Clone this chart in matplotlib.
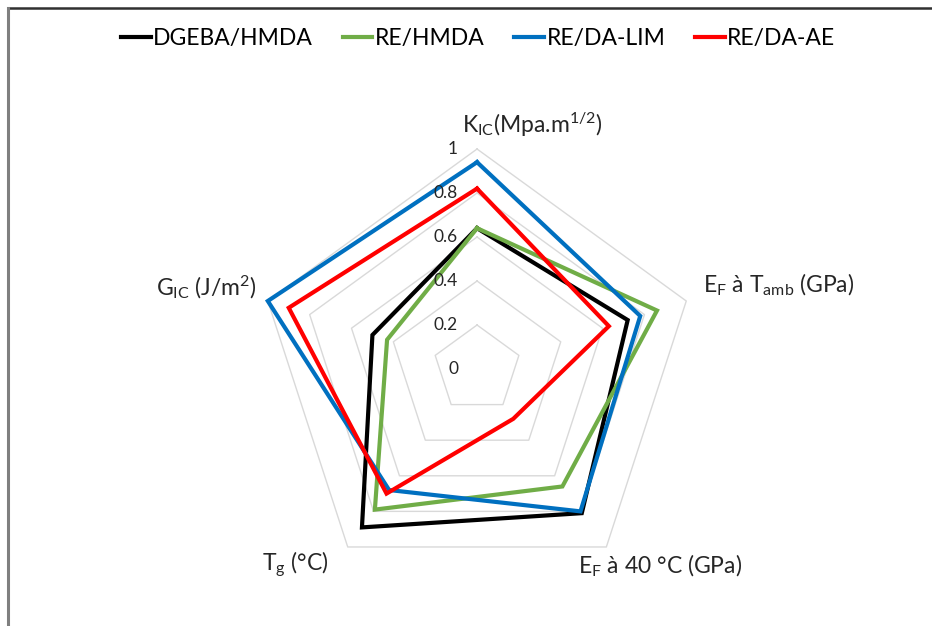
import numpy as np
import matplotlib
matplotlib.use('Agg')
import matplotlib.pyplot as plt
from matplotlib.lines import Line2D
from matplotlib.transforms import offset_copy

plt.rcParams['font.family'] = ['Lato', 'DejaVu Sans']
plt.rcParams['mathtext.fontset'] = 'custom'
plt.rcParams['mathtext.rm'] = 'Lato'
plt.rcParams['mathtext.it'] = 'Lato:italic'
plt.rcParams['mathtext.bf'] = 'Lato:bold'

# axes du radar (dans le sens horaire depuis le haut)
axes_labels = [r'K$_{\mathrm{IC}}$(Mpa.m$^{\mathrm{1/2}}$)',
               r'E$_{\mathrm{F}}$ à T$_{\mathrm{amb}}$ (GPa)',
               r'E$_{\mathrm{F}}$ à 40 °C (GPa)',
               r'T$_{\mathrm{g}}$ (°C)',
               r'G$_{\mathrm{IC}}$ (J/m$^{\mathrm{2}}$)']

# valeurs normalisees
dgeba_hmda = [0.64, 0.72, 0.81, 0.89, 0.50]
re_hmda = [0.64, 0.86, 0.66, 0.79, 0.43]
re_da_lim = [0.94, 0.78, 0.80, 0.68, 1.00]
re_da_ae = [0.82, 0.63, 0.28, 0.70, 0.90]

series_names = ['DGEBA/HMDA', 'RE/HMDA', 'RE/DA-LIM', 'RE/DA-AE']
series_colors = ['#000000', '#70ad47', '#0070c0', '#ff0000']

grid_levels = [0.2, 0.4, 0.6, 0.8, 1.0]
tick_levels = [0, 0.2, 0.4, 0.6, 0.8, 1]
tick_labels = ['0', '0.2', '0.4', '0.6', '0.8', '1']

fig = plt.figure(figsize=(9.32, 6.26), dpi=100)

# cadre (capture d'ecran)
fig.add_artist(Line2D([8/932, 1], [1 - 8/626, 1 - 8/626], color='#303030', lw=1.8))
fig.add_artist(Line2D([8/932, 8/932], [0, 1 - 8/626], color='#7f7f7f', lw=2.2))

ax = fig.add_axes([0.2758, 0.0591, 0.4721, 0.7029], projection='polar')
ax.set_theta_offset(np.pi / 2)
ax.set_theta_direction(-1)
ax.set_ylim(0, 1)
ax.grid(False)
ax.spines['polar'].set_visible(False)
ax.set_xticks([])
ax.set_yticks([])
ax.patch.set_visible(False)

theta = np.linspace(0, 2 * np.pi, len(axes_labels), endpoint=False)
theta_c = np.append(theta, theta[0])

# grille pentagonale
for lvl in grid_levels:
    ax.plot(theta_c, [lvl] * len(theta_c), color='#d9d9d9', lw=1, zorder=1, clip_on=False)

# series
all_data = [dgeba_hmda, re_hmda, re_da_lim, re_da_ae]
for vals, name, col in zip(all_data, series_names, series_colors):
    ax.plot(theta_c, vals + [vals[0]], color=col, lw=3.0, label=name,
            solid_joinstyle='miter', zorder=3, clip_on=False)

# etiquettes de l'echelle
trans = offset_copy(ax.transData, fig=fig, x=-19, y=0, units='dots')
for lvl, lab in zip(tick_levels, tick_labels):
    ax.text(0, lvl, lab, transform=trans, ha='right', va='center', fontsize=12.5, color='#262626')

# noms des axes
label_pos = [(462, 133), (703, 292), (578, 573), (262, 570), (156, 295)]
for lab, (px, py) in zip(axes_labels, label_pos):
    fig.text(px / 932, 1 - py / 626, lab, ha='left', va='baseline', fontsize=16.5, color='#262626')

fig.legend(loc='center', bbox_to_anchor=(0.513, 0.939), ncol=4, frameon=False,
           fontsize=16.5, handlelength=1.3, handletextpad=0.1, columnspacing=1.3)

fig.savefig('out.png', dpi=100)
